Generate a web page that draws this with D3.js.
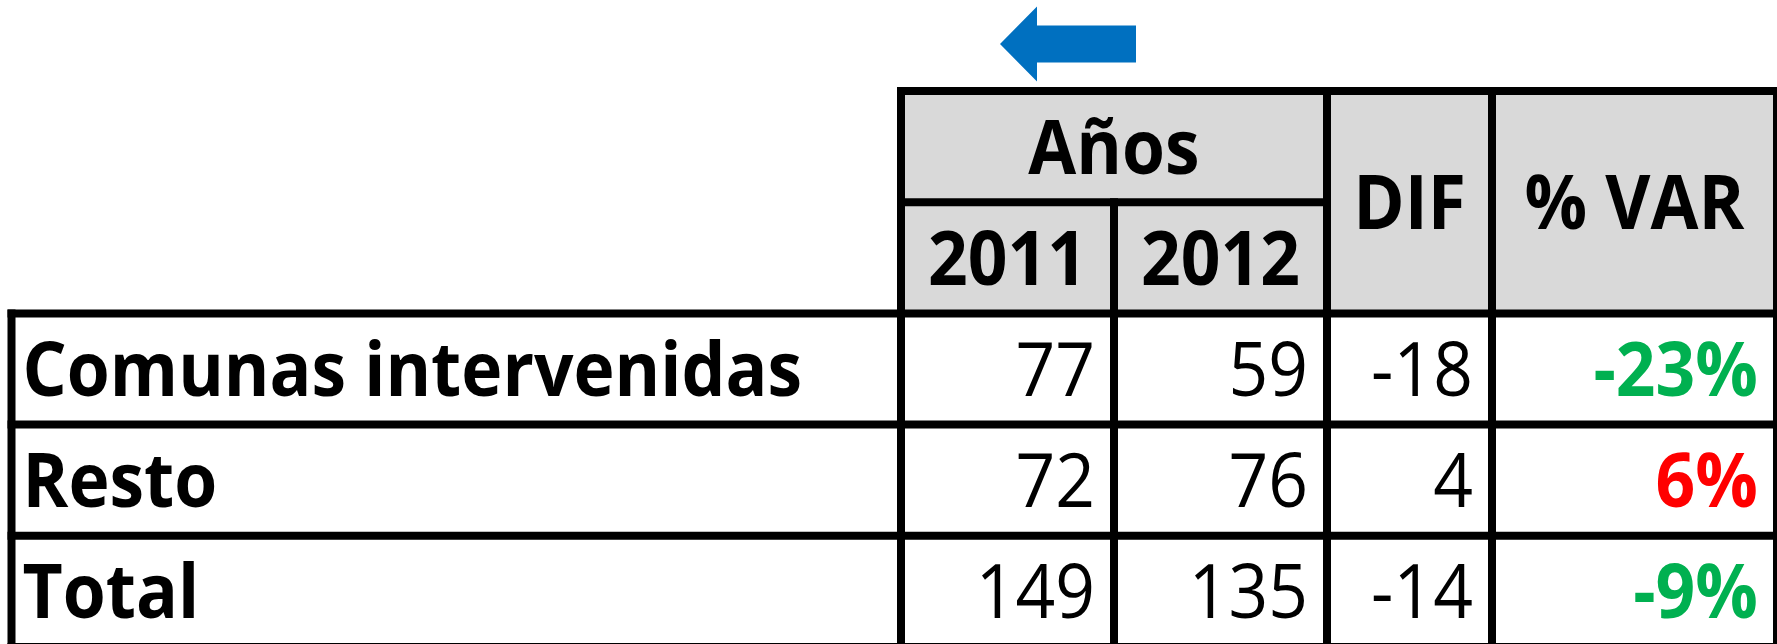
<!DOCTYPE html>
<html>
<head>
<meta charset="utf-8">
<script src="https://cdn.jsdelivr.net/npm/d3@7"></script>
<style>
  html, body { margin: 0; padding: 0; background: #fff; }
  svg { display: block; }
</style>
</head>
<body>
<div id="chart"></div>
<script>
// table data
const categories = ["Comunas intervenidas", "Resto", "Total"];
const years = ["2011", "2012"];
const values2011 = [77, 72, 149];
const values2012 = [59, 76, 135];
const difValues = [-18, 4, -14];
const pctVar = [-23, 6, -9];
const groupLabel = "Años";
const difLabel = "DIF";
const varLabel = "% VAR";

//set svg size
let w = 1777;
let h = 644;
let lineW = 8;
let fontSize = 75.6;
let squeeze = 0.92;   // narrow the font a bit, closer to Calibri
let capHalf = 27;

let svg = d3.select("#chart")
            .append("svg")
            .attr("width", w)
            .attr("height", h);

// column edges: label | 2011 | 2012 | DIF | %VAR
let xScale = d3.scaleOrdinal()
                .domain(["label", "2011", "2012", "dif", "var", "end"])
                .range([11.5, 901, 1114, 1327, 1492, 1777]);

// row edges: 5 rows of equal height (2 header rows + 3 body rows)
let yScale = d3.scaleLinear()
                .domain([0, 5])
                .range([91, 647]);

let bodyScale = d3.scaleBand()
                .domain(categories)
                .range([yScale(2), yScale(5)]);

let colors = v => v < 0 ? "#00b050" : "#ff0000";

// gray header background
svg.append("rect")
    .attr("x", xScale("2011"))
    .attr("y", yScale(0))
    .attr("width", xScale("end") - xScale("2011"))
    .attr("height", yScale(2) - yScale(0))
    .attr("fill", "#d9d9d9");

// helper to draw condensed text
function addText(x, y, str, anchor, weight, fill) {
    svg.append("g")
        .attr("transform", `translate(${x}, ${y}) scale(${squeeze}, 1)`)
        .append("text")
        .attr("text-anchor", anchor)
        .attr("font-family", "'Open Sans', sans-serif")
        .attr("font-weight", weight)
        .attr("font-size", fontSize)
        .attr("fill", fill || "#000")
        .text(str);
}

let mid = (a, b) => (a + b) / 2;

// header labels
addText(mid(xScale("2011"), xScale("dif")), mid(yScale(0), yScale(1)) + capHalf, groupLabel, "middle", 700);
years.forEach(y => {
    let next = y === "2011" ? "2012" : "dif";
    addText(mid(xScale(y), xScale(next)), mid(yScale(1), yScale(2)) + capHalf, y, "middle", 700);
});
addText(mid(xScale("dif"), xScale("var")), mid(yScale(0), yScale(2)) + capHalf, difLabel, "middle", 700);
addText(mid(xScale("var"), xScale("end")), mid(yScale(0), yScale(2)) + capHalf, varLabel, "middle", 700);

// body rows
let pad = 19;
categories.forEach((c, i) => {
    let base = bodyScale(c) + bodyScale.bandwidth() / 2 + capHalf;
    addText(xScale("label") + 11, base, c, "start", 700);
    addText(xScale("2012") - pad, base, values2011[i], "end", 400);
    addText(xScale("dif") - pad, base, values2012[i], "end", 400);
    addText(xScale("var") - pad, base, difValues[i], "end", 400);
    addText(xScale("end") - pad, base, pctVar[i] + "%", "end", 700, colors(pctVar[i]));
});

// grid lines
let lines = [
    [xScale("2011"), yScale(0), xScale("end"), yScale(0)],
    [xScale("2011"), yScale(1), xScale("dif"), yScale(1)],
    [xScale("label"), yScale(2), xScale("end"), yScale(2)],
    [xScale("label"), yScale(3), xScale("end"), yScale(3)],
    [xScale("label"), yScale(4), xScale("end"), yScale(4)],
    [xScale("label"), yScale(5), xScale("end"), yScale(5)],
    [xScale("label"), yScale(2), xScale("label"), yScale(5)],
    [xScale("2011"), yScale(0), xScale("2011"), yScale(5)],
    [xScale("2012"), yScale(1), xScale("2012"), yScale(5)],
    [xScale("dif"), yScale(0), xScale("dif"), yScale(5)],
    [xScale("var"), yScale(0), xScale("var"), yScale(5)],
    [xScale("end"), yScale(0), xScale("end"), yScale(5)]
];

svg.append("g")
    .selectAll("line")
    .data(lines)
    .enter()
    .append("line")
    .attr("x1", d => d[0])
    .attr("y1", d => d[1])
    .attr("x2", d => d[2])
    .attr("y2", d => d[3])
    .attr("stroke", "#000")
    .attr("stroke-width", lineW)
    .attr("stroke-linecap", "square");

// blue arrow pointing left above the year columns
let tipX = 1000, tipY = 44, headX = 1037, tailX = 1136;
let headHalf = 37.5, shaftHalf = 18.5;
svg.append("path")
    .attr("d", d3.line()([
        [tipX, tipY],
        [headX, tipY - headHalf],
        [headX, tipY - shaftHalf],
        [tailX, tipY - shaftHalf],
        [tailX, tipY + shaftHalf],
        [headX, tipY + shaftHalf],
        [headX, tipY + headHalf]
    ]) + "Z")
    .attr("fill", "#0070c0");
</script>
</body>
</html>
